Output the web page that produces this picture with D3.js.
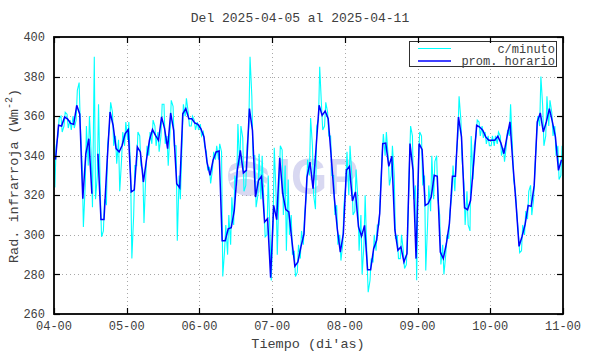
<!DOCTYPE html>
<html><head><meta charset="utf-8">
<script src="https://cdn.jsdelivr.net/npm/d3@7"></script>
<style>
body{margin:0;background:#fff}
text{font-family:"Liberation Mono","DejaVu Sans Mono",monospace;fill:#404040}
</style>
</head><body><div id="chart"></div>
<script>
const W=590, H=354;
const title = 'Del 2025-04-05 al 2025-04-11';
const xTitle = "Tiempo (di'as)";
const dayTicks = [0,24,48,72,96,120,144,168];
const dayLabels = ['04-00','05-00','06-00','07-00','08-00','09-00','10-00','11-00'];
const yTicks = [260,280,300,320,340,360,380,400];
const legendNames = ['c/minuto','prom. horario'];

// hourly means (hour k plotted at k+0.5), null = missing hour
const hourly = [
  338,355.4,355,359.6,358.5,356.3,355.9,365.5,361,318.3,341,348.6,320.8,null,341,307.7,307.7,336,362.1,355.4,343.6,341.9,345.3,351.2,
  353.2,321.7,322.8,344.4,341.9,326.7,337.7,347.8,353.2,350.3,347.8,359.6,353.7,343.6,361.6,352.8,325.9,323.8,361.2,363.8,358.7,358.7,356.5,355.9,
  353.6,349.5,336.8,330.1,337.7,341.9,342.4,297,297,303.1,303.6,312.4,332.6,342.7,331.3,332.6,363.8,352.8,319.1,327.6,329.6,306.5,308.2,278.4,
  314.9,307.7,339,320.8,312.8,311.6,297.3,284.1,286.3,293.9,300.3,329.2,336.8,323.3,344,365.5,360.4,362.6,358.7,339.4,319.1,303.1,291.3,300.6,
  332.6,334.6,317.1,321.7,304,299.3,304.8,282.4,282.4,293,297.3,310.7,346.1,346.4,334.6,339.7,302.6,292.2,293.9,286.3,290.5,346.1,332.6,288,
  346.1,343,314.9,315.8,319.1,330.1,329.6,291.3,288,295.5,305.6,329.6,329.6,359.6,349.5,313.7,312.7,317.5,336,355.4,354.5,352.9,349.5,347.8,
  347.8,347.8,349.8,346.4,341,349.5,357.1,335.2,315.8,294.2,299.3,305.3,314.9,314.4,325,357.1,361.6,352,357.1,363.8,357.1,349.5,332.6,338
];
// per-hour highest and lowest one-minute values
const minHi = [
  345,359,360,362,361,358,360,373,377,335,355,360,340,390,366,320,318,345,367,362,350,348,352,357,
  357,330,335,352,350,333,345,352,358,355,352,366,366,350,368,365,345,330,366,369,362,360,358,357,
  356,352,342,334,342,345,346,342,305,310,319,330,356,355,349,345,390,370,340,341,340,315,330,300,
  344,320,345,343,335,328,310,292,295,302,310,338,359,345,355,385,365,367,362,350,330,315,300,315,
  342,345,330,333,318,310,320,288,288,300,305,320,351,352,340,345,330,300,300,292,300,355,350,325,
  352,350,330,325,340,337,340,310,295,300,312,335,338,370,358,326,322,350,345,358,357,355,352,350,
  350,350,352,350,344,353,366,345,322,300,305,312,322,325,332,360,380,365,370,368,362,355,345,345
];
const minLo = [
  324,350,352,355,354,353,354,358,355,304,325,335,314,318,330,299,302,315,355,345,336,322,338,345,
  348,288,310,335,335,306,330,340,346,345,342,350,346,335,352,345,297,318,348,360,355,355,353,353,
  350,345,333,326,333,338,338,279,292,290,295,305,325,335,322,325,355,340,314,320,318,299,300,277,
  305,290,325,310,292,300,290,279,281,288,295,320,330,320,313,358,353,355,350,330,310,295,287,295,
  325,320,310,312,292,280,295,271,277,286,292,305,340,340,325,330,298,288,288,283,285,335,318,277,
  338,325,282,305,312,318,318,285,280,290,298,320,322,350,338,305,305,302,328,350,350,349,346,345,
  345,345,346,340,337,345,350,328,312,291,292,300,308,310,318,350,355,345,350,355,350,340,328,330
];

const M = {l:54, r:563, t:37, b:314};
const svg = d3.select('#chart').append('svg').attr('width',W).attr('height',H)
  .style('font-family','"Liberation Mono",monospace');

const x = d3.scaleLinear().domain([0,168]).range([M.l,M.r]);
const y = d3.scaleLinear().domain([260,400]).range([M.b,M.t]);

svg.append('defs').append('clipPath').attr('id','plot')
  .append('rect').attr('x',M.l).attr('y',M.t).attr('width',M.r-M.l).attr('height',M.b-M.t);

// watermark logo
const wm = svg.append('g');
const wmCol = '#d8d8f1';
wm.append('circle').attr('cx',248).attr('cy',176).attr('r',20).attr('fill',wmCol);
[[-12,6],[-3,5],[6,4]].forEach(([dy,w])=>{
  wm.append('path')
    .attr('d',`M${230},${176+dy} Q${248},${176+dy-10} ${268},${176+dy+4}`)
    .attr('fill','none').attr('stroke','#fff').attr('stroke-width',w*0.5);
});
wm.append('text').attr('x',278).attr('y',194)
  .attr('textLength',80).attr('lengthAdjust','spacingAndGlyphs')
  .style('font-family','"Liberation Sans",Arial,sans-serif').style('font-weight','bold')
  .style('font-size','50px').style('fill',wmCol).text('IGP');

// grid
const grid = svg.append('g').attr('stroke','#a8a8a8').attr('stroke-dasharray','1,3').attr('stroke-width',1);
yTicks.slice(1,-1).forEach(v=>{
  grid.append('line').attr('x1',M.l).attr('x2',M.r).attr('y1',Math.round(y(v))+0.5).attr('y2',Math.round(y(v))+0.5);
});
dayTicks.slice(1,-1).forEach(v=>{
  grid.append('line').attr('y1',M.t).attr('y2',M.b).attr('x1',Math.round(x(v))+0.5).attr('x2',Math.round(x(v))+0.5);
});

// minute series (drawn as the per-hour high/low excursions)
const minutePts = [];
minHi.forEach((hi,k)=>{
  const up = k===0 || (hourly[k]??0) >= (hourly[k-1]??0);
  if(up){ minutePts.push([k+0.3,minLo[k]]); minutePts.push([k+0.7,minHi[k]]); }
  else { minutePts.push([k+0.3,minHi[k]]); minutePts.push([k+0.7,minLo[k]]); }
});
const plot = svg.append('g').attr('clip-path','url(#plot)');
plot.append('path').datum(minutePts)
  .attr('d', d3.line().x(d=>x(d[0])).y(d=>y(d[1])))
  .attr('fill','none').attr('stroke','#00ffff').attr('stroke-width',1.1);

plot.append('path').datum(hourly.map((v,k)=>[k+0.5,v]))
  .attr('d', d3.line().defined(d=>d[1]!=null).x(d=>x(d[0])).y(d=>y(d[1])))
  .attr('fill','none').attr('stroke','#0000ff').attr('stroke-width',1.5);

// legend
const lg = svg.append('g');
lg.append('rect').attr('x',409.5).attr('y',41.5).attr('width',147).attr('height',25)
  .attr('fill','#fff').attr('stroke','#303030').attr('stroke-width',1);
[['#00ffff',48.5],['#0000ff',61]].forEach(([c,yy],i)=>{
  lg.append('line').attr('x1',418).attr('x2',451).attr('y1',yy).attr('y2',yy)
    .attr('stroke',c).attr('stroke-width',i?1.5:1);
  lg.append('text').attr('x',555).attr('y',yy).attr('dy','0.35em').attr('text-anchor','end')
    .style('font-size','12px').text(legendNames[i]);
});

// border and ticks
svg.append('rect').attr('x',M.l).attr('y',M.t).attr('width',M.r-M.l).attr('height',M.b-M.t)
  .attr('fill','none').attr('stroke','#000').attr('stroke-width',1.8);
const tk = svg.append('g').attr('stroke','#000').attr('stroke-width',1.2);
yTicks.forEach(v=>{
  const yy=Math.round(y(v))+0.5;
  tk.append('line').attr('x1',M.l).attr('x2',M.l+6).attr('y1',yy).attr('y2',yy);
  tk.append('line').attr('x1',M.r-6).attr('x2',M.r).attr('y1',yy).attr('y2',yy);
});
dayTicks.forEach(v=>{
  const xx=Math.round(x(v))+0.5;
  tk.append('line').attr('x1',xx).attr('x2',xx).attr('y1',M.t).attr('y2',M.t+6);
  tk.append('line').attr('x1',xx).attr('x2',xx).attr('y1',M.b-6).attr('y2',M.b);
});

// tick labels
svg.append('g').selectAll('text').data(yTicks).join('text')
  .attr('x',M.l-9).attr('y',d=>y(d)).attr('dy','0.35em').attr('text-anchor','end')
  .style('font-size','12px').text(d=>d);
svg.append('g').selectAll('text').data(dayTicks).join('text')
  .attr('x',d=>x(d)).attr('y',330).attr('text-anchor','middle')
  .style('font-size','12px').text((d,i)=>dayLabels[i]);

// titles
svg.append('text').attr('x',300).attr('y',22).attr('text-anchor','middle')
  .style('font-size','13px').text(title);
svg.append('text').attr('x',308).attr('y',348).attr('text-anchor','middle')
  .style('font-size','13.5px').text(xTitle);
const yt = svg.append('text').attr('transform','translate(18,176) rotate(-90)')
  .attr('text-anchor','middle').style('font-size','13.5px');
yt.append('tspan').text('Rad. infrarroja (Wm');
yt.append('tspan').attr('dy',-6).style('font-size','10px').text('-2');
yt.append('tspan').attr('dy',6).text(')');
</script>
</body></html>
